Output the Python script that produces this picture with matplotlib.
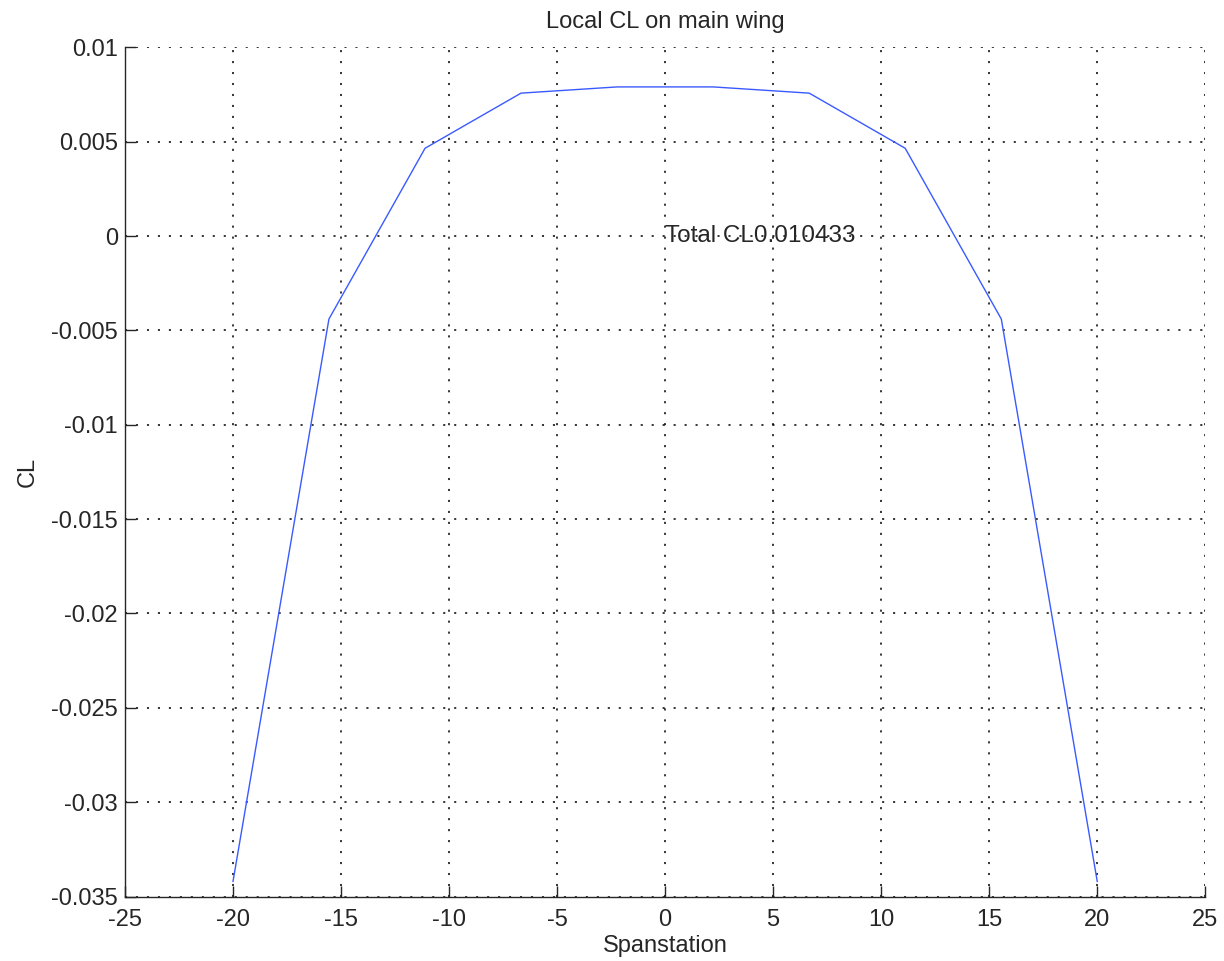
import matplotlib
matplotlib.use('Agg')
import matplotlib.pyplot as plt

# --- Spanwise lift distribution ---
span = [-20.0, -15.56, -11.11, -6.67, -2.22, 2.22, 6.67, 11.11, 15.56, 20.0]
cl_local = [-0.0342, -0.0044, 0.00465, 0.00757, 0.0079, 0.0079, 0.00757, 0.00465, -0.0044, -0.0342]
total_cl = 0.010433

plt.rcParams['font.family'] = ['Liberation Sans', 'DejaVu Sans']
plt.rcParams['lines.scale_dashes'] = False
plt.rcParams['axes.unicode_minus'] = False

txt = '#262626'
fs = 17

fig = plt.figure(figsize=(12.24, 9.61), dpi=100)
ax = fig.add_axes([0.1021, 0.0671, 0.8826, 0.8837])

ax.plot(span, cl_local, color='#3a5aff', lw=1.0, zorder=3)
ax.text(0, 0, 'Total CL' + str(total_cl), fontsize=17.5, color=txt,
        ha='left', va='center', zorder=4)

ax.set_xlim(-25, 25)
ax.set_ylim(-0.035, 0.01)
ax.set_xticks(range(-25, 26, 5))
yt = [-0.035, -0.03, -0.025, -0.02, -0.015, -0.01, -0.005, 0, 0.005, 0.01]
ax.set_yticks(yt)
ax.set_yticklabels(['%g' % v for v in yt])

ax.grid(True, color='black', linestyle=(0, (1.5, 6.4)), linewidth=1.1)
ax.set_axisbelow(True)
for s in ['top', 'right']:
    ax.spines[s].set_visible(False)
for s in ['left', 'bottom']:
    ax.spines[s].set_linewidth(1.0)
    ax.spines[s].set_color(txt)
ax.tick_params(direction='in', length=8, width=1.0, labelsize=fs,
               colors=txt)
ax.tick_params(axis='x', pad=9)
ax.tick_params(axis='y', pad=5)

ax.set_title('Local CL on main wing', fontsize=fs, color=txt, pad=14)
ax.set_xlabel('Spanstation', fontsize=fs, color=txt, labelpad=3)
ax.set_ylabel('CL', fontsize=fs, color=txt, labelpad=9)

fig.savefig('out.png', dpi=100, facecolor='white')
